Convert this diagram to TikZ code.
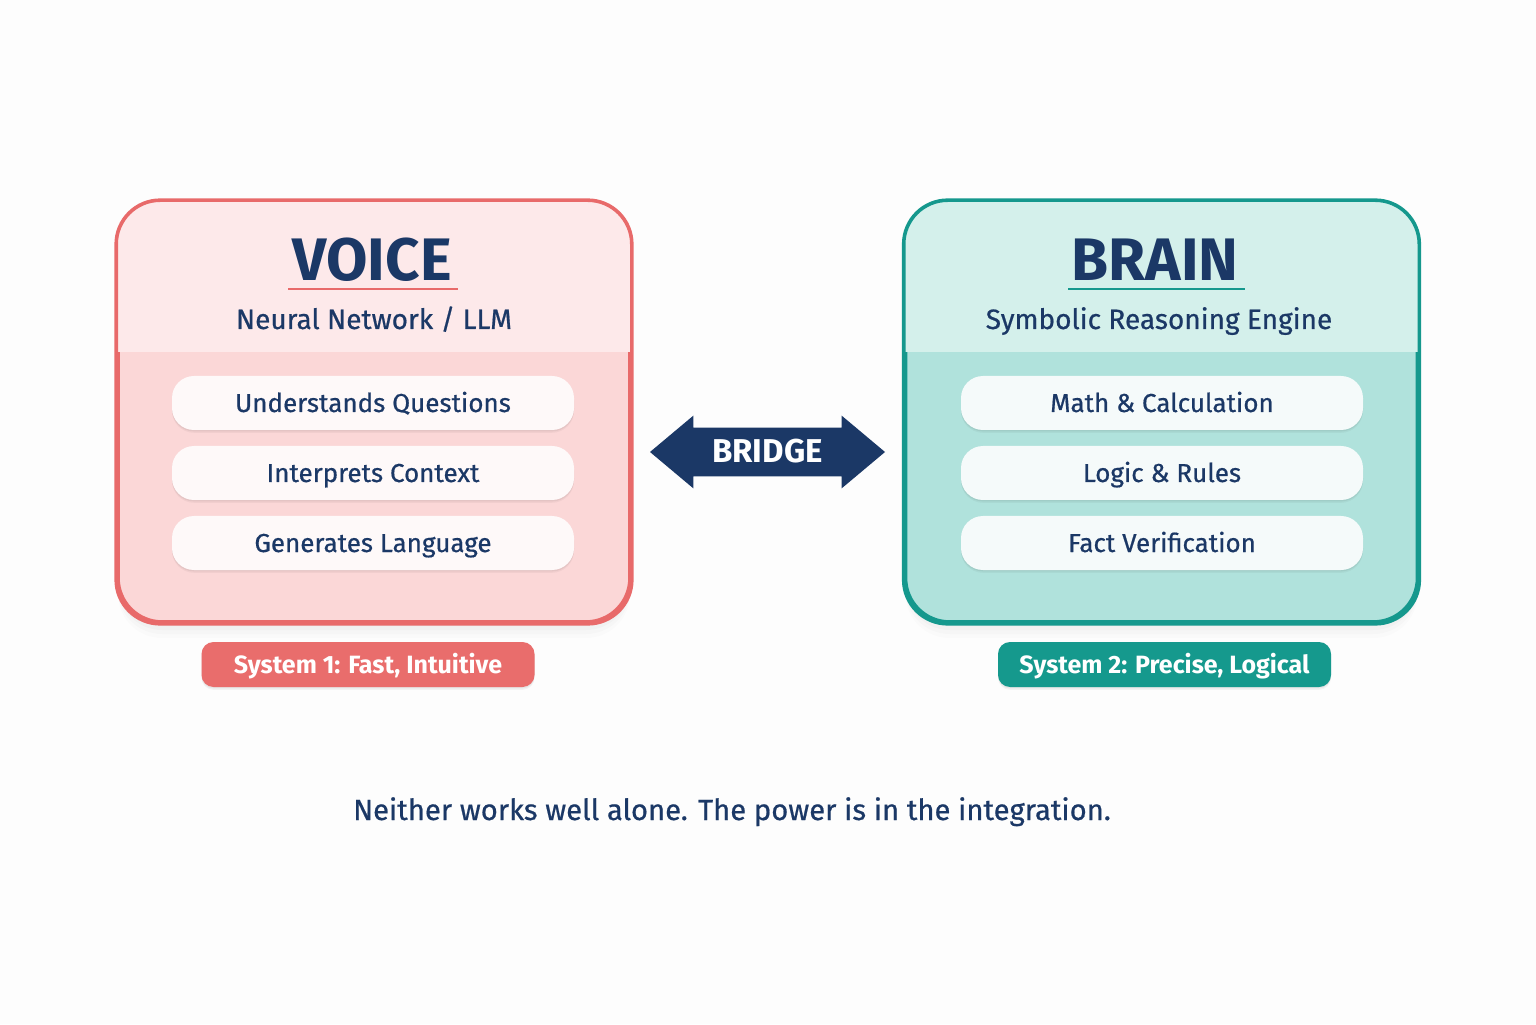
\documentclass[tikz,border=0pt]{standalone}
\usepackage{fontspec}
\setmainfont{Fira Sans}
\newfontfamily\medfont{Fira Sans}[FakeBold=0.6]
\usetikzlibrary{shapes.arrows}
\definecolor{bg}{HTML}{FDFDFD}
\definecolor{navy}{HTML}{1B3866}
\definecolor{redline}{HTML}{E86A6A}
\definecolor{redhi}{HTML}{FDE9EA}
\definecolor{redlo}{HTML}{FBD7D7}
\definecolor{redpill}{HTML}{FEF9F9}
\definecolor{redbtn}{HTML}{E96D6C}
\definecolor{tealline}{HTML}{15988D}
\definecolor{tealhi}{HTML}{D4F0EB}
\definecolor{teallo}{HTML}{B0E2DC}
\definecolor{tealpill}{HTML}{F5FAFA}
\definecolor{tealbtn}{HTML}{15998D}
\tikzset{
  bigshadow/.style={
    preaction={fill=black, fill opacity=0.018, draw=none, transform canvas={yshift=-2pt}},
    preaction={fill=black, fill opacity=0.018, draw=none, transform canvas={yshift=-4pt}},
    preaction={fill=black, fill opacity=0.015, draw=none, transform canvas={yshift=-6pt}},
    preaction={fill=black, fill opacity=0.012, draw=none, transform canvas={yshift=-8pt}}},
  smallshadow/.style={
    preaction={fill=black, fill opacity=0.05, draw=none, transform canvas={yshift=-0.7pt}},
    preaction={fill=black, fill opacity=0.04, draw=none, transform canvas={yshift=-1.4pt}}},
  bigbox/.style={minimum width=256pt, minimum height=210pt, rounded corners=22pt, line width=1.8pt, inner sep=0pt, bigshadow},
  boxtitle/.style={anchor=base, font=\bfseries\fontsize{30}{32}\selectfont, text=navy},
  boxsub/.style={anchor=base, font=\medfont\fontsize{14}{16}\selectfont, text=navy},
  pill/.style={minimum width=201pt, minimum height=27pt, rounded corners=11pt, inner sep=0pt,
    text height=9pt, text depth=0pt,
    font=\medfont\fontsize{13}{15}\selectfont, text=navy, smallshadow},
  syslab/.style={minimum width=166.5pt, minimum height=22.5pt, rounded corners=6pt, inner sep=0pt,
    text height=8.6pt, text depth=0pt,
    font=\bfseries\fontsize{12.5}{14}\selectfont, text=white, smallshadow},
}
\begin{document}
\begin{tikzpicture}[x=0.5pt,y=0.5pt]
\fill[bg] (0,0) rectangle (1536,1024);
\useasboundingbox (0,0) rectangle (1536,1024);

% VOICE box
\node[bigbox, fill=redlo, draw=redline] (voice) at (374,612) {};
\begin{scope}
  \clip[rounded corners=22pt] (voice.north west) rectangle (voice.south east);
  \fill[redhi] (118,822) rectangle (630,672);
\end{scope}
\draw[redline, line width=1.8pt, rounded corners=22pt] (voice.north west) rectangle (voice.south east);
\node[boxtitle] (vtitle) at (372,743) {VOICE};
\coordinate (vul1) at (288,735);
\coordinate (vul2) at (458,735);
\draw[redline, line width=1pt] (vul1) -- (vul2);
\node[boxsub] (vsub) at (374,695) {Neural Network / LLM};
\node[pill, fill=redpill] (v1) at (373,621) {Understands Questions};
\node[pill, fill=redpill] (v2) at (373,551) {Interprets Context};
\node[pill, fill=redpill] (v3) at (373,481) {Generates Language};
\node[syslab, fill=redbtn] (s1) at (368,359.5) {System 1: Fast, Intuitive};

% BRAIN box
\node[bigbox, fill=teallo, draw=tealline] (brain) at (1161.5,612) {};
\begin{scope}
  \clip[rounded corners=22pt] (brain.north west) rectangle (brain.south east);
  \fill[tealhi] (905,822) rectangle (1418,672);
\end{scope}
\draw[tealline, line width=1.8pt, rounded corners=22pt] (brain.north west) rectangle (brain.south east);
\node[boxtitle] (btitle) at (1155,743) {BRAIN};
\coordinate (bul1) at (1068,735);
\coordinate (bul2) at (1245,735);
\draw[tealline, line width=1pt] (bul1) -- (bul2);
\node[boxsub] (bsub) at (1159,695) {Symbolic Reasoning Engine};
\node[pill, fill=tealpill] (b1) at (1162,621) {Math \& Calculation};
\node[pill, fill=tealpill] (b2) at (1162,551) {Logic \& Rules};
\node[pill, fill=tealpill] (b3) at (1162,481) {Fact Verification};
\node[syslab, fill=tealbtn] (s2) at (1164.5,359.5) {System 2: Precise, Logical};

% BRIDGE arrow
\node[double arrow, fill=navy, minimum width=36pt, minimum height=117.5pt,
      double arrow head extend=6pt, double arrow tip angle=80,
      text height=11pt, text depth=0pt, inner ysep=6.5pt, inner xsep=4pt,
      font=\bfseries\fontsize{16.5}{18}\selectfont, text=white] (bridge) at (767.5,572) {BRIDGE};

% bottom note
\node[anchor=base, font=\medfont\fontsize{14.6}{16}\selectfont, text=navy] (note) at (732,204) {Neither works well alone. The power is in the integration.};
\end{tikzpicture}
\end{document}
